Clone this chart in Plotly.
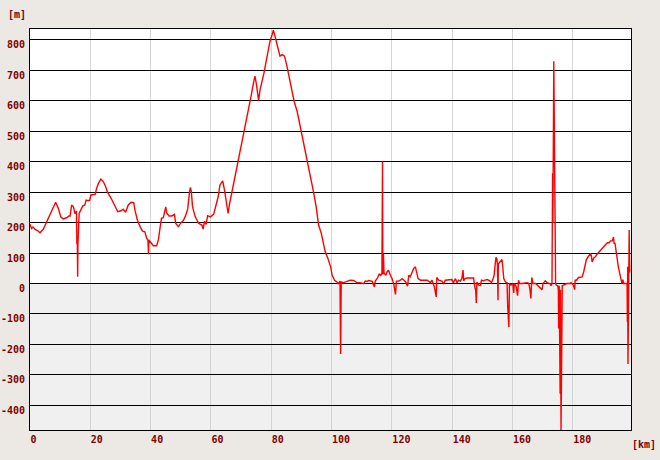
import plotly.graph_objects as go

# Elevation profile (distance in km, elevation in m)
distance_km = [
    0.0, 0.5, 1.0, 1.7, 2.5, 3.3, 4.4, 5.5, 6.6, 7.7, 8.5, 9.4, 10.2, 11.0, 12.1, 12.9, 13.3,
    13.8, 14.4, 14.9, 15.4, 15.55, 15.7, 15.8, 15.9, 16.3, 16.9, 17.5, 18.2, 18.6, 19.3, 19.8,
    20.2, 21.6, 22.1, 22.7, 23.5, 24.3, 25.1, 25.7, 26.9, 28.0, 29.1, 30.2, 30.9, 31.7, 32.6,
    33.5, 34.4, 34.8, 35.6, 36.5, 37.3, 38.1, 38.7, 39.1, 39.3, 39.4, 40.3, 40.9, 42.0, 42.6,
    43.1, 43.6, 44.2, 45.0, 45.4, 46.1, 47.0, 47.9, 48.3, 49.2, 50.1, 50.8, 51.6,
    52.3, 52.9, 53.1, 53.2, 53.5, 53.9, 54.8, 55.9, 57.0, 57.4, 57.9, 58.4, 58.9, 59.8, 60.9,
    61.7, 62.4, 63.0, 63.9, 64.5, 65.2, 65.7, 66.1, 67.0, 67.9, 68.8, 69.7, 70.5, 71.2, 72.0,
    72.7, 73.4, 74.2, 74.6, 75.1, 75.6, 75.8, 76.3, 76.9, 77.6, 78.3, 78.9, 79.6, 80.3, 80.7,
    81.1, 81.6, 82.3, 82.9, 83.6, 84.4, 85.1, 85.8, 86.7, 87.6, 88.6, 89.3, 90.2, 91.1, 92.0,
    92.6, 93.3, 94.1, 94.9, 95.7, 96.6, 97.3, 97.9, 98.8, 99.7, 100.2, 100.7, 101.0, 101.8,
    102.2, 102.8, 103.0, 103.2, 104.0, 105.1, 106.2, 107.3, 108.4, 109.5, 110.6, 111.2, 111.8,
    112.3, 113.5, 114.2, 114.5, 115.1, 115.8, 116.3, 116.7, 116.9, 117.0, 117.2, 117.4, 118.0,
    118.4, 118.9, 119.5, 120.0, 120.6, 120.9, 121.2, 121.5, 122.2, 122.8, 123.4, 124.0, 124.6,
    125.2, 125.6, 126.1, 126.7, 127.2, 127.8, 128.3, 128.7, 129.5, 130.6, 131.7, 132.8, 133.3,
    134.1, 134.4, 134.7, 134.9, 135.5, 136.6, 137.2, 137.7, 138.8, 139.9, 140.4, 141.1, 141.6,
    142.1, 142.7, 143.2, 143.6, 143.8, 144.3, 144.9, 146.0, 147.1, 147.5, 147.8, 148.0, 148.2,
    148.8, 149.4, 149.7, 150.3, 150.9, 151.6, 152.5, 153.0, 153.4, 153.9, 154.5, 154.8, 155.0,
    155.2, 155.3, 156.2, 156.5, 156.7, 157.1, 157.7, 158.2, 158.4, 158.8, 159.0, 159.5, 160.1,
    160.4, 160.6, 161.2, 161.7, 162.0, 162.4, 163.1, 164.9, 165.4, 165.8, 166.1, 166.4, 166.8,
    167.7, 168.5, 169.3, 169.8, 170.1, 170.9, 171.5, 172.4, 172.8, 173.1, 173.3, 173.4, 173.7,
    173.8, 173.9, 174.0, 174.1, 174.3, 174.5, 175.0, 175.2, 175.3, 175.5, 175.8, 175.9, 176.1,
    176.3, 176.5, 176.9, 178.0, 179.2, 179.4, 180.2, 180.6, 180.8, 181.2, 181.9, 182.5, 183.1,
    183.6, 184.2, 184.5, 185.1, 185.9, 186.2, 186.4, 187.0, 187.5, 188.1, 188.6, 189.2, 189.7,
    190.3, 190.9, 191.5, 192.1, 192.5, 193.1, 193.5, 193.7, 194.0, 194.3, 194.6, 195.1, 195.7,
    196.0, 196.3, 196.6, 196.9, 197.6, 198.0, 198.1, 198.2, 198.3, 198.5, 198.7, 198.8, 198.9,
]
elevation_m = [
    195, 181, 186, 178, 174, 167, 178, 203, 225, 247, 267, 247, 219, 212, 216, 222, 222,
    258, 252, 230, 238, 132, 128, 22, 130, 230, 241, 255, 258, 274, 272, 274,
    291, 293, 313, 329, 343, 335, 318, 300, 280, 258, 236, 239, 244, 234, 258,
    267, 266, 241, 209, 187, 172, 170, 148, 143, 96, 143, 132, 124, 124, 145,
    181, 214, 216, 252, 230, 222, 222, 227, 198, 187, 200, 206, 223,
    245, 300, 313, 316, 302, 252, 219, 198, 192, 179, 205, 194, 223, 219, 227,
    258, 285, 324, 337, 307, 258, 230, 258, 302, 346, 390, 428, 472, 511, 549,
    587, 620, 664, 681, 653, 620, 601, 637, 659, 692, 730, 763, 796, 818, 832,
    818, 796, 774, 747, 752, 747, 719, 686, 642, 598, 565, 532, 489, 445, 406,
    368, 335, 297, 252, 192, 165, 132, 104, 82, 55, 27, 16, 11, 5,
    0, 8, -231, 5, 3, 7, 11, 10, 3, 3, 0, 8, 7,
    10, 7, -11, 8, 16, 31, 27, 35, 401, 30, 99, 35, 27,
    38, 44, 27, 18, 0, -22, -36, 8, 8, 11, 16, 11, 5,
    -9, 27, 22, 38, 49, 55, 38, 16, 11, 11, 11, 3, 11,
    -11, -31, -44, 20, 11, 8, 0, 11, 11, 13, 3, 16, 3,
    11, 8, 16, 44, 9, 16, 18, 18, 18, -11, -22, -64, 5,
    -5, -6, 11, 9, 11, 13, 9, 3, 11, 27, 86, 82, 64,
    -55, 64, 75, 79, 64, 16, 5, 3, -71, -143, 0, -5, 0,
    -31, 0, -9, -40, 11, 0, 0, 3, 0, -20, -49, 20, 0,
    0, -7, -13, -20, 0, 9, 3, 0, -7, 0, 362, 200, 730,
    549, 549, 395, 187, 0, -5, -7, -20, -148, -7, -362, -20, -481,
    -247, -7, -5, 0, 0, 3, -5, -20, 11, 11, 20, 22, 22,
    38, 60, 79, 88, 99, 88, 71, 85, 88, 97, 103, 110, 114,
    123, 128, 134, 134, 140, 140, 153, 132, 132, 110, 82, 55, 27,
    11, 0, 13, 0, 0, 0, -126, 55, -264, 88, 176, 88, 36,
]

x_ticks = [0, 20, 40, 60, 80, 100, 120, 140, 160, 180]
x_tick_labels = [str(v) for v in x_ticks]
y_ticks = [-400, -300, -200, -100, 0, 100, 200, 300, 400, 500, 600, 700, 800]
y_tick_labels = [str(v) for v in y_ticks]

x_range = [0, 199.3]
y_range = [-481, 836]

label_color = "#800000"
label_font = dict(family="DejaVu Sans Mono", size=10, color=label_color, weight="bold")

fig = go.Figure()
fig.add_trace(go.Scatter(
    x=distance_km, y=elevation_m, mode="lines",
    line=dict(color="#ff0000", width=1.4),
    hoverinfo="x+y", showlegend=False,
))

# grey band below sea level
fig.add_shape(type="rect", xref="paper", x0=0, x1=1, yref="y",
              y0=y_range[0], y1=0, fillcolor="#f0f0f0", line=dict(width=0),
              layer="below")

fig.update_layout(
    width=660, height=460,
    margin=dict(l=30, r=29, t=29, b=30),
    paper_bgcolor="#ece9e4",
    plot_bgcolor="#ffffff",
    showlegend=False,
    annotations=[
        dict(text="[m]", xref="paper", yref="paper", x=-13 / 601, y=1 + 14.5 / 401,
             showarrow=False, font=label_font, xanchor="center", yanchor="middle"),
        dict(text="[km]", xref="paper", yref="paper", x=1 + 13 / 601, y=-14.5 / 401,
             showarrow=False, font=label_font, xanchor="center", yanchor="middle"),
    ],
)
fig.update_xaxes(
    range=x_range, tickmode="array", tickvals=x_ticks, ticktext=x_tick_labels,
    showgrid=True, gridcolor="#d4d4d4", gridwidth=1, zeroline=False,
    showline=True, linecolor="#000000", linewidth=1, mirror=True,
    ticks="", tickfont=label_font, ticklabelposition="outside right",
    ticklabelstandoff=0, automargin=False,
)
fig.update_yaxes(
    range=y_range, tickmode="array", tickvals=y_ticks, ticktext=y_tick_labels,
    showgrid=True, gridcolor="#000000", gridwidth=1,
    zeroline=True, zerolinecolor="#000000", zerolinewidth=1,
    showline=True, linecolor="#000000", linewidth=1, mirror=True,
    ticks="", tickfont=label_font, ticklabelshift=5, ticklabelstandoff=2,
    automargin=False,
)

fig.write_html(
    "out.html",
    config={"displayModeBar": False},
    post_script="document.body.style.margin='0';document.body.style.padding='0';"
                "document.body.style.background='#ece9e4';",
)
